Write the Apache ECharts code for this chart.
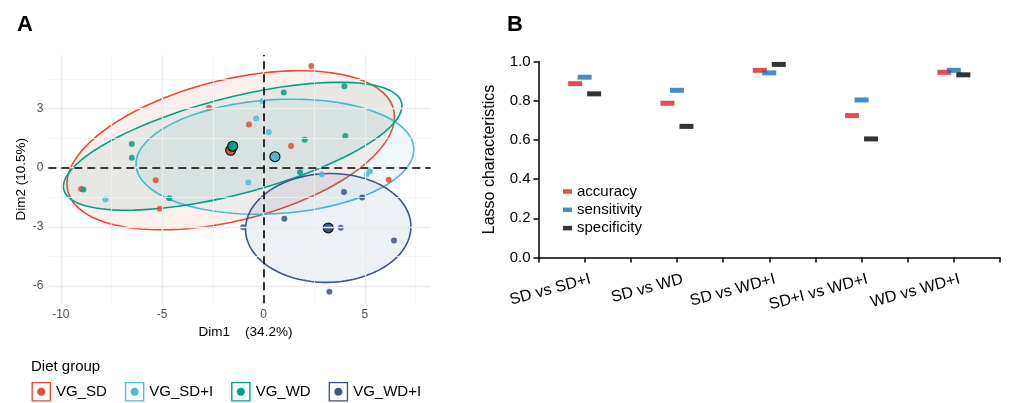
<!DOCTYPE html>
<html><head><meta charset="utf-8">
<script src="https://cdn.jsdelivr.net/npm/echarts@6/dist/echarts.min.js"></script>
<style>html,body{margin:0;padding:0;background:#fff}#c{width:1010px;height:403px}</style>
</head><body><div id="c"></div>
<script>
// ---------- Panel A: PCA individuals ----------
const groups = ['VG_SD', 'VG_SD+I', 'VG_WD', 'VG_WD+I'];
const groupColors = ['#E64B35', '#4DBBD5', '#00A087', '#3C5488'];
const sdX  = [2.36, -2.69, -0.72, 1.36, -9.00, -5.32, -5.12, 6.18];
const sdY  = [5.15, 3.03, 2.19, 1.10, -1.08, -0.64, -2.09, -0.62];
const sdiX = [-0.05, -0.37, 0.26, -7.80, -0.75, 2.87, 5.09, 5.25];
const sdiY = [3.38, 2.49, 1.80, -1.62, -0.76, -0.34, -0.34, -0.18];
const wdX  = [1.00, 3.99, 2.03, 4.04, -6.50, -6.50, -8.89, -4.65, 1.80];
const wdY  = [3.81, 4.13, 1.41, 1.60, 1.20, 0.50, -1.11, -1.55, -0.23];
const wdiX = [3.97, 4.87, 1.03, -1.01, 3.81, 6.44, 3.25];
const wdiY = [-1.24, -1.51, -2.59, -3.03, -3.05, -3.70, -6.29];
const dim1Ticks = [-10, -5, 0, 5];
const dim1Minor = [-7.5, -2.5, 2.5, 7.5];
const dim2Ticks = [3, 0, -3, -6];
const dim2Minor = [4.5, 1.5, -1.5, -4.5];
const ELLIPSE_SCALE = 1.65;

// ---------- Panel B: Lasso characteristics ----------
const comparisons = ['SD vs SD+I', 'SD vs WD', 'SD vs WD+I', 'SD+I vs WD+I', 'WD vs WD+I'];
const accuracy    = [0.887, 0.787, 0.955, 0.724, 0.945];
const sensitivity = [0.920, 0.853, 0.942, 0.804, 0.955];
const specificity = [0.835, 0.669, 0.985, 0.605, 0.932];
const metricNames = ['accuracy', 'sensitivity', 'specificity'];
const metricColors = ['#E41E26', '#1C6FB6', '#000000'];

const FONT = '"Liberation Sans", Arial, Helvetica, sans-serif';
const groupXs = [sdX, sdiX, wdX, wdiX];
const groupYs = [sdY, sdiY, wdY, wdiY];

function rgba(hex, a) {
  const n = parseInt(hex.slice(1), 16);
  return 'rgba(' + (n >> 16 & 255) + ',' + (n >> 8 & 255) + ',' + (n & 255) + ',' + a + ')';
}
function stats(xs, ys) {
  const n = xs.length;
  const mx = xs.reduce((a, b) => a + b, 0) / n, my = ys.reduce((a, b) => a + b, 0) / n;
  let sxx = 0, syy = 0, sxy = 0;
  for (let i = 0; i < n; i++) { const dx = xs[i] - mx, dy = ys[i] - my; sxx += dx * dx; syy += dy * dy; sxy += dx * dy; }
  return { mx, my, sxx: sxx / (n - 1), syy: syy / (n - 1), sxy: sxy / (n - 1) };
}
function ellipse(xs, ys, r) {
  const s = stats(xs, ys);
  const l11 = Math.sqrt(s.sxx), l21 = s.sxy / l11, l22 = Math.sqrt(s.syy - l21 * l21);
  const pts = [];
  for (let k = 0; k <= 120; k++) {
    const t = 2 * Math.PI * k / 120, c = Math.cos(t), sn = Math.sin(t);
    pts.push([s.mx + r * l11 * c, s.my + r * (l21 * c + l22 * sn)]);
  }
  return pts;
}

const BOX_ICON = 'path://M0,0H20V20H0Z M1.4,1.4V18.6H18.6V1.4Z M10,5.8C12.32,5.8 14.2,7.68 14.2,10C14.2,12.32 12.32,14.2 10,14.2C7.68,14.2 5.8,12.32 5.8,10C5.8,7.68 7.68,5.8 10,5.8Z';

const series = [];
// grid lines + reference dashed lines
const gridLine = (v, key, major) => ({ [key]: v, lineStyle: { color: major ? '#EBEBEB' : '#F3F3F3', width: major ? 1.3 : 0.8, type: 'solid' } });
series.push({
  type: 'scatter', name: 'grid', xAxisIndex: 0, yAxisIndex: 0, data: [], z: 0, silent: true,
  markLine: {
    silent: true, symbol: 'none', label: { show: false }, animation: false,
    data: [].concat(
      dim1Ticks.map(v => gridLine(v, 'xAxis', true)), dim1Minor.map(v => gridLine(v, 'xAxis', false)),
      dim2Ticks.map(v => gridLine(v, 'yAxis', true)), dim2Minor.map(v => gridLine(v, 'yAxis', false)))
  }
});
groups.forEach((g, i) => {
  const pts = ellipse(groupXs[i], groupYs[i], ELLIPSE_SCALE);
  const col = groupColors[i];
  series.push({
    type: 'custom', name: g + ' ellipse', xAxisIndex: 0, yAxisIndex: 0, z: 2, silent: true,
    data: [[0, 0]],
    renderItem: (params, api) => ({
      type: 'polygon', shape: { points: pts.map(p => api.coord(p)) },
      style: { fill: rgba(col, 0.09), stroke: col, lineWidth: 1.6 }
    })
  });
});
series.push({
  type: 'scatter', name: 'zero', xAxisIndex: 0, yAxisIndex: 0, data: [], z: 2.5, silent: true,
  markLine: {
    silent: true, symbol: 'none', label: { show: false }, animation: false,
    lineStyle: { color: '#000', width: 1.6, type: [8, 5] },
    data: [{ xAxis: 0 }, { yAxis: 0 }]
  }
});
groups.forEach((g, i) => {
  const xs = groupXs[i], ys = groupYs[i], s = stats(xs, ys);
  const data = xs.map((x, k) => [x, ys[k]]);
  data.push({ value: [s.mx, s.my], symbolSize: 10, itemStyle: { opacity: 1, borderColor: '#000', borderWidth: 1.1 } });
  series.push({
    type: 'scatter', name: g, xAxisIndex: 0, yAxisIndex: 0, z: 3,
    symbol: 'circle', symbolSize: 6,
    itemStyle: { color: groupColors[i], opacity: 0.85 },
    data
  });
});
// Panel B marks
const metricData = [accuracy, sensitivity, specificity];
metricNames.forEach((m, i) => {
  series.push({
    type: 'scatter', name: m, xAxisIndex: 1, yAxisIndex: 1, z: 3,
    symbol: 'rect', symbolSize: [14, 5], symbolOffset: [(i - 1) * 9.5, 0],
    itemStyle: { color: metricColors[i] },
    data: comparisons.map((c, k) => [c, metricData[i][k]])
  });
});

const option = {
  animation: false,
  textStyle: { fontFamily: FONT },
  title: [
    { text: 'A', left: 17, top: 14, padding: 0, textStyle: { fontSize: 22, fontWeight: 'bold', color: '#000', fontFamily: FONT } },
    { text: 'B', left: 507, top: 14, padding: 0, textStyle: { fontSize: 22, fontWeight: 'bold', color: '#000', fontFamily: FONT } },
    { text: 'Diet group', left: 31, top: 359, padding: 0, textStyle: { fontSize: 15, fontWeight: 'normal', color: '#000', fontFamily: FONT } }
  ],
  legend: [
    {
      left: 31.5, top: 382, padding: 0, orient: 'horizontal', itemWidth: 19.5, itemHeight: 19.5, itemGap: 18,
      textStyle: { fontSize: 15, color: '#000', fontFamily: FONT },
      data: groups.map((g, i) => ({ name: g, icon: BOX_ICON, itemStyle: { color: groupColors[i], opacity: 1 } })),
      selectedMode: false
    },
    {
      left: 563, top: 184, padding: 0, orient: 'vertical', itemWidth: 9, itemHeight: 4.5, itemGap: 3.3,
      textStyle: { fontSize: 15, color: '#000', lineHeight: 15, fontFamily: FONT },
      data: metricNames.map((m, i) => ({ name: m, icon: 'rect', itemStyle: { color: metricColors[i] } })),
      selectedMode: false
    }
  ],
  grid: [
    { left: 48.3, top: 55, width: 382.4, height: 248.3 },
    { left: 538.5, top: 61.5, width: 461.5, height: 196 }
  ],
  xAxis: [
    {
      type: 'value', gridIndex: 0, min: -10.62, max: 8.25,
      axisLine: { show: false },
      axisTick: { show: true, customValues: dim1Ticks, length: 3, lineStyle: { color: '#333', width: 1.2 } },
      axisLabel: { customValues: dim1Ticks, color: '#4D4D4D', fontSize: 12, margin: 5 },
      splitLine: { show: false },
      name: 'Dim1    (34.2%)', nameLocation: 'middle', nameGap: 18,
      nameTextStyle: { fontSize: 13.5, color: '#000', padding: [0, 0, 0, 12] }
    },
    {
      type: 'category', gridIndex: 1, position: 'bottom', data: comparisons, boundaryGap: true,
      axisLine: { lineStyle: { color: '#000', width: 1.5 } },
      axisTick: { show: true, interval: 0, length: 5, lineStyle: { color: '#000', width: 1.5 } },
      axisLabel: { interval: 0, rotate: 15, fontSize: 16, color: '#000', margin: 23, padding: [0, -6, 0, 0] },
      splitLine: { show: false }
    },
    {
      type: 'category', gridIndex: 1, position: 'bottom', data: comparisons, boundaryGap: true,
      axisLine: { show: false },
      axisTick: { show: true, interval: 0, alignWithLabel: true, length: 5, lineStyle: { color: '#000', width: 1.5 } },
      axisLabel: { show: false },
      splitLine: { show: false }
    }
  ],
  yAxis: [
    {
      type: 'value', gridIndex: 0, min: -6.88, max: 5.71,
      axisLine: { show: false },
      axisTick: { show: true, customValues: dim2Ticks, length: 3, lineStyle: { color: '#333', width: 1.2 } },
      axisLabel: { customValues: dim2Ticks, color: '#4D4D4D', fontSize: 12, margin: 5 },
      splitLine: { show: false },
      name: 'Dim2 (10.5%)', nameLocation: 'middle', nameGap: 16,
      nameTextStyle: { fontSize: 13.5, color: '#000' }
    },
    {
      type: 'value', gridIndex: 1, min: 0, max: 1, interval: 0.2,
      axisLine: { show: true, lineStyle: { color: '#000', width: 1.5 } },
      axisTick: { show: true, length: 5, lineStyle: { color: '#000', width: 1.5 } },
      axisLabel: { fontSize: 15, color: '#000', margin: 8, formatter: v => v.toFixed(1) },
      splitLine: { show: false },
      name: 'Lasso characteristics', nameLocation: 'middle', nameGap: 41,
      nameTextStyle: { fontSize: 16, color: '#000' }
    }
  ],
  series
};
const chart = echarts.init(document.getElementById('c'), null, { renderer: 'canvas' });
chart.setOption(option);
</script></body></html>
